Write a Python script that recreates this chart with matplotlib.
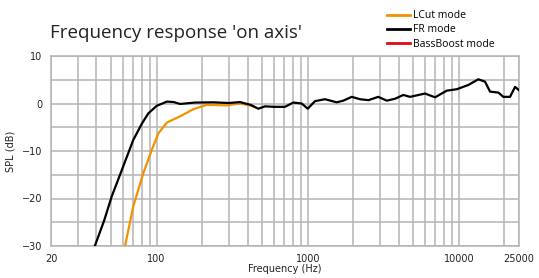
import numpy as np
import matplotlib.pyplot as plt
from matplotlib.lines import Line2D
from matplotlib.ticker import FixedLocator, NullFormatter

## values
fr_freq = [39, 45, 50.4, 60, 70, 80, 88, 100, 117, 130, 143, 180, 237, 300, 356, 420, 471, 521,
           600, 707, 802, 912, 1000, 1117, 1301, 1555, 1720, 1955, 2218, 2518, 2931, 3331,
           3782, 4290, 4753, 5972, 6955, 8312, 9680, 11550, 13460, 14900, 16080, 18250,
           19700, 21810, 23540, 25000]
fr_spl = [-30, -24.6, -19.6, -13.3, -7.7, -4.2, -2.1, -0.5, 0.4, 0.3, -0.1, 0.2, 0.25, 0.1, 0.3, -0.3, -1.1, -0.6,
          -0.7, -0.7, 0.2, 0.0, -1.1, 0.5, 0.9, 0.25, 0.6, 1.4, 0.9, 0.7, 1.4, 0.6,
          1.0, 1.8, 1.4, 2.1, 1.3, 2.7, 3.0, 3.9, 5.1, 4.6, 2.5, 2.3,
          1.4, 1.4, 3.5, 2.8]

lcut_freq = [61.8, 70, 81.6, 92.8, 102.6, 117, 143, 175, 214, 237, 291, 356, 415, 450]
lcut_spl = [-30, -21.7, -14.7, -9.8, -6.3, -4.0, -2.7, -1.2, -0.3, -0.3, -0.4, 0.0, -0.4, -0.8]

x_ticks = [20, 100, 1000, 10000, 25000]
x_labels = ['20', '100', '1000', '10000', '25000']
y_ticks = [10, 0, -10, -20, -30]

legend_names = ['LCut mode', 'FR mode', 'BassBoost mode']
legend_colors = ['#f39200', '#000000', '#e30613']

fig = plt.figure(figsize=(5.39, 2.78), dpi=100)
ax = fig.add_axes([51 / 539, 1 - 246 / 278, 468 / 539, 190 / 278])

ax.plot(lcut_freq, lcut_spl, color=legend_colors[0], lw=1.6, zorder=3)
ax.plot(fr_freq, fr_spl, color=legend_colors[1], lw=1.6, zorder=4)

ax.set_xscale('log')
ax.set_xlim(20, 25000)
ax.set_ylim(-30, 10)

minor = [m * d for d in (10, 100, 1000) for m in range(2, 10)] + [10000, 20000]
minor = [v for v in minor if 20 < v < 25000]
ax.xaxis.set_major_locator(FixedLocator(x_ticks))
ax.xaxis.set_minor_locator(FixedLocator(minor))
ax.xaxis.set_minor_formatter(NullFormatter())
ax.set_xticklabels(x_labels)
ax.set_yticks(y_ticks)
ax.set_yticks([5, -5, -15, -25], minor=True)

ax.grid(True, which='both', color='#b4b4b4', lw=1.1)
ax.tick_params(which='both', length=0, labelsize=7, colors='#222222', pad=6)
for s in ax.spines.values():
    s.set_color('#b4b4b4')
    s.set_linewidth(1.1)

ax.set_xlabel('Frequency (Hz)', fontsize=7, labelpad=0, color='#222222')
ax.set_ylabel('SPL (dB)', fontsize=7, labelpad=5, color='#222222')

fig.text(50 / 539, 1 - 38 / 278, "Frequency response 'on axis'", fontsize=13.5,
         family='Open Sans', color='#222222')

handles = [Line2D([0], [0], color=c, lw=2) for c in legend_colors]
fig.legend(handles, legend_names, loc='upper left', bbox_to_anchor=(378 / 539, 1 - 1 / 278),
           frameon=False, handlelength=2.2, handletextpad=0.3,
           labelspacing=0.3, prop={'family': 'Open Sans', 'size': 7.5})

fig.savefig('out.png', dpi=100)
